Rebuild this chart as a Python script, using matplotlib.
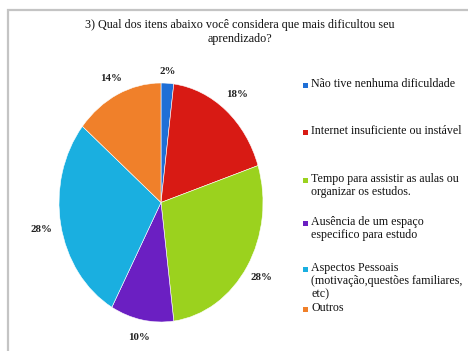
import matplotlib
matplotlib.use("Agg")
import numpy as np
import matplotlib.pyplot as plt
from matplotlib.patches import Rectangle

title = "3) Qual dos itens abaixo você considera que mais dificultou seu\naprendizado?"
categories = [
    "Não tive nenhuma dificuldade",
    "Internet insuficiente ou instável",
    "Tempo para assistir as aulas ou\norganizar os estudos.",
    "Ausência de um espaço\nespecifico para estudo",
    "Aspectos Pessoais\n(motivação,questões familiares,\netc)",
    "Outros",
]
values = [2, 18, 28, 10, 28, 14]
colors = ["#1f6fd6", "#d81a14", "#9bd21e", "#6b1fc2", "#1aafe0", "#f0802a"]

W, H = 468, 351
fig = plt.figure(figsize=(W / 100, H / 100), dpi=100)
fig.patch.set_facecolor("white")

def fx(px):
    return px / W

def fy(py):
    return 1 - py / H

serif = ["Liberation Serif", "DejaVu Serif"]

# outer frame of the chart area (runs past the right and bottom edges)
fig.patches.append(Rectangle((fx(8), fy(H + 20)), fx(W + 20) - fx(8), fy(10) - fy(H + 20),
                             transform=fig.transFigure, fill=False,
                             edgecolor="#c4c4c4", linewidth=1.6))

fig.text(fx(240), fy(32), title, ha="center", va="center", fontsize=8.7,
         family=serif, linespacing=1.3, color="#111111")

# pie area: stretched vertically
cx, cy, rx, ry = 161, 202.5, 102, 119.5
ax = fig.add_axes([fx(cx - rx), fy(cy + ry), 2 * rx / W, 2 * ry / H])
wedges, _, autotexts = ax.pie(values, colors=colors, startangle=90, counterclock=False,
                              autopct="%d%%", pctdistance=1.16,
                              wedgeprops=dict(edgecolor="white", linewidth=0.4),
                              textprops=dict(fontsize=7.8, fontweight="bold",
                                             family=serif, color="#222222"))

# individual outside-end distances of the percentage labels
label_dist = [1.10, 1.17, 1.17, 1.15, 1.19, 1.15]
for w, t, d in zip(wedges, autotexts, label_dist):
    mid = np.deg2rad((w.theta1 + w.theta2) / 2)
    t.set_position((d * np.cos(mid), d * np.sin(mid)))

ax.set_xlim(-1, 1)
ax.set_ylim(-1, 1)
ax.set_aspect("auto")
ax.axis("off")

# legend entries
legend_y = [85, 132, 180, 223, 269, 309]
for label, w, y in zip(categories, wedges, legend_y):
    fig.patches.append(Rectangle((fx(303), fy(y + 2.5)), 5 / W, 5 / H,
                                 transform=fig.transFigure,
                                 facecolor=w.get_facecolor(), edgecolor="none"))
    fig.text(fx(311), fy(y - 7), label, ha="left", va="top", fontsize=8.6,
             family=serif, linespacing=1.14, color="#111111")

fig.savefig("out.png", dpi=100)
